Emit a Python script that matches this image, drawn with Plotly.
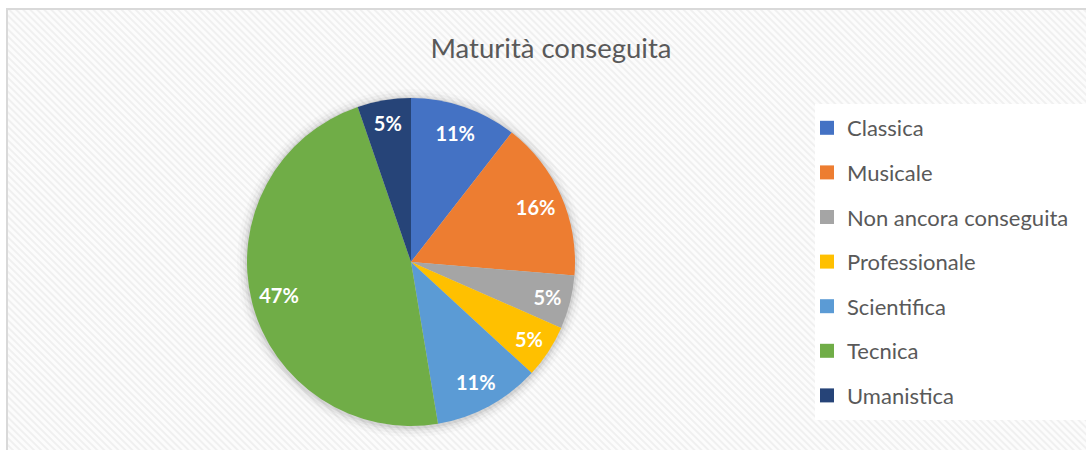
import base64
import plotly.graph_objects as go

# ---- data ----
labels = ["Classica", "Musicale", "Non ancora conseguita", "Professionale",
          "Scientifica", "Tecnica", "Umanistica"]
counts = [2, 3, 1, 1, 2, 9, 1]
colors = ["#4472C4", "#ED7D31", "#A5A5A5", "#FFC000", "#5B9BD5", "#70AD47", "#264478"]
title_text = "Maturità conseguita"

W, H = 1086, 450
FONT = "Lato, 'Open Sans', sans-serif"

# striped chart-area background (decorative)
svg = f'''<svg xmlns="http://www.w3.org/2000/svg" width="{W}" height="{H}">
<defs><pattern id="p" width="5" height="5" patternUnits="userSpaceOnUse" patternTransform="rotate(-45)">
<rect width="5" height="5" fill="#fcfcfc"/><rect width="2" height="5" fill="#f0f0f0"/></pattern></defs>
<rect width="{W}" height="{H}" fill="url(#p)"/></svg>'''
bg_uri = "data:image/svg+xml;base64," + base64.b64encode(svg.encode()).decode()

# pie geometry (pixels)
cx, cy, R = 411, 262, 164
dom_x = [(cx - R) / W, (cx + R) / W]
dom_y = [(H - cy - R) / H, (H - cy + R) / H]

fig = go.Figure()
# filled pie
fig.add_trace(go.Pie(
    labels=labels, values=counts, sort=False, direction="clockwise", rotation=0,
    marker=dict(colors=colors, line=dict(width=0)),
    textinfo="none", domain=dict(x=dom_x, y=dom_y), showlegend=False,
    hoverinfo="label+percent",
))
# label ring (transparent) so percentages sit near the rim as in the original
fig.add_trace(go.Pie(
    labels=labels, values=counts, sort=False, direction="clockwise", rotation=0,
    hole=0.66,
    marker=dict(colors=["rgba(0,0,0,0)"] * len(labels), line=dict(width=0)),
    texttemplate="%{percent:.0%}", textposition="inside",
    insidetextorientation="horizontal",
    textfont=dict(family=FONT, size=20, color="white", weight="bold"),
    domain=dict(x=dom_x, y=dom_y), showlegend=False, hoverinfo="skip",
))

# legend entries
for lab, col in zip(labels, colors):
    fig.add_trace(go.Scatter(
        x=[None], y=[None], mode="markers", name=lab, legendgroup=lab,
        marker=dict(symbol="square", size=14, color=col),
    ))

shapes = []
# soft shadow around pie
for grow, a in [(10, 0.02), (7, 0.03), (4, 0.045), (2, 0.06)]:
    shapes.append(dict(type="circle", xref="paper", yref="paper",
                       xsizemode="pixel", ysizemode="pixel",
                       xanchor=cx / W, yanchor=(H - cy - 1) / H,
                       x0=-R - grow, x1=R + grow, y0=-R - grow, y1=R + grow,
                       fillcolor=f"rgba(0,0,0,{a})", line=dict(width=0), layer="below"))
# legend white box
shapes.append(dict(type="rect", xref="paper", yref="paper",
                   x0=815 / W, x1=1.0, y0=(H - 420) / H, y1=(H - 104) / H,
                   fillcolor="white", line=dict(width=0), layer="below"))
# chart frame
shapes.append(dict(type="rect", xref="paper", yref="paper",
                   x0=7 / W, x1=1.01, y0=-0.01, y1=(H - 9) / H,
                   fillcolor="rgba(0,0,0,0)", line=dict(color="#d9d9d9", width=2), layer="above"))

fig.update_layout(
    width=W, height=H, margin=dict(l=0, r=0, t=0, b=0),
    paper_bgcolor="white", plot_bgcolor="rgba(0,0,0,0)",
    xaxis=dict(visible=False), yaxis=dict(visible=False),
    title=dict(text=title_text, x=551 / W, xanchor="center", y=(H - 48) / H, yanchor="middle",
               font=dict(family=FONT, size=27.5, color="#595959")),
    legend=dict(x=807 / W, xanchor="left", y=(H - 107) / H, yanchor="top",
                bgcolor="rgba(0,0,0,0)", tracegroupgap=13,
                font=dict(family=FONT, size=22, color="#595959"),
                itemclick=False, itemdoubleclick=False),
    images=[dict(source=bg_uri, xref="paper", yref="paper", x=7 / W, y=(H - 9) / H,
                 sizex=1 - 7 / W, sizey=(H - 9) / H, xanchor="left", yanchor="top",
                 sizing="stretch", layer="below")],
    shapes=shapes,
)

fig.write_html("out.html", config={"displayModeBar": False},
               post_script="document.body.style.margin='0';")
